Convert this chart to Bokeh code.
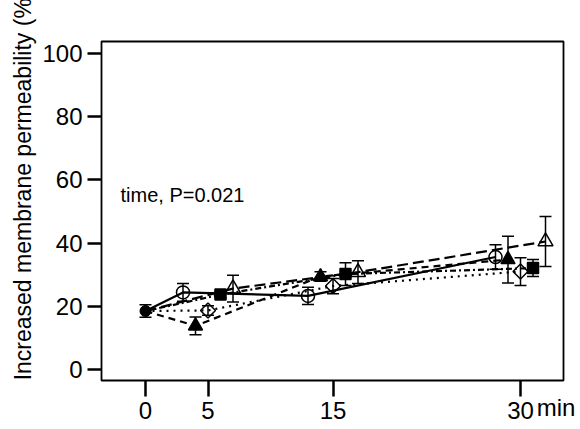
import math
from bokeh.plotting import figure
from bokeh.models import (ColumnDataSource, Whisker, TeeHead, Label,
                          FixedTicker, Range1d, LinearAxis)
from bokeh.embed import file_html
from bokeh.resources import INLINE

# ---- data ----
times = [5, 15, 30]
tick_values = [0, 5, 15, 30]
tick_labels = ["0", "5", "15", "30"]
unit_label = "min"
y_ticks = [0, 20, 40, 60, 80, 100]

base_time = [0]
base_value = [18.5]
base_err = [2.0]

open_circle_vals = [24.4, 23.3, 35.6]
open_circle_err = [2.8, 2.7, 3.9]
filled_tri_vals = [13.8, 29.4, 34.8]
filled_tri_err = [2.8, 1.5, 7.4]
diamond_vals = [18.7, 26.4, 31.0]
diamond_err = [1.5, 2.4, 4.4]
square_vals = [23.7, 30.2, 32.1]
square_err = [1.0, 3.6, 2.7]
open_tri_vals = [25.6, 30.8, 40.5]
open_tri_err = [4.2, 3.6, 7.9]

FONT = "Liberation Sans"

W, H = 580, 429
X0, X1 = -3.52, 33.44
p = figure(width=W, height=H, output_backend="svg", toolbar_location=None,
           x_range=Range1d(X0, X1), y_range=Range1d(-3.48, 103.8),
           min_border_left=101, min_border_right=17, min_border_top=41,
           min_border_bottom=49)
p.xgrid.visible = False
p.ygrid.visible = False
p.outline_line_color = "black"
p.outline_line_width = 1.8
p.background_fill_color = "white"
p.border_fill_color = "white"

for ax in (p.xaxis[0], p.yaxis[0]):
    ax.axis_line_color = None
    ax.major_tick_in = 0
    ax.major_tick_line_width = 2.5
    ax.major_tick_line_color = "black"
    ax.minor_tick_line_color = None
    ax.major_label_text_font = FONT
    ax.major_label_text_font_size = "24px"
    ax.major_label_text_color = "black"

xa = p.xaxis[0]
xa.ticker = FixedTicker(ticks=tick_values)
xa.major_label_overrides = {t: l for t, l in zip(tick_values, tick_labels)}
xa.major_tick_out = 16
xa.major_label_standoff = 5

# unit text on the same line as the tick labels
unit_pos = 30 + (555.5 - 520) / 12.5
xb = LinearAxis(ticker=FixedTicker(ticks=[unit_pos]),
                major_label_overrides={unit_pos: unit_label},
                axis_line_color=None, major_tick_line_color=None,
                minor_tick_line_color=None, major_tick_in=0, major_tick_out=0,
                major_label_standoff=-28, major_label_text_font=FONT,
                major_label_text_font_size="24px", major_label_text_color="black")
p.add_layout(xb, "below")

ya = p.yaxis[0]
ya.ticker = FixedTicker(ticks=y_ticks)
ya.major_tick_out = 14
ya.major_label_standoff = 5
pad = "\u00a0" * 8
ya.axis_label = pad + "Increased membrane permeability (%)"
ya.axis_label_text_font = FONT
ya.axis_label_text_font_size = "23px"
ya.axis_label_text_font_style = "normal"
ya.axis_label_text_color = "black"
ya.axis_label_standoff = 3

series = [
    (open_circle_vals, open_circle_err, -2, "solid", "circle", 13, False, 0),
    (filled_tri_vals, filled_tri_err, -1, "7 5", "triangle", 14, True, 0),
    (diamond_vals, diamond_err, 0, "2 5", "square", 10.6, False, math.pi / 4),
    (square_vals, square_err, 1, "6 3 2 3", "square", 11, True, 0),
    (open_tri_vals, open_tri_err, 2, "11 5", "triangle", 15, False, 0),
]

for vals, errs, off, dash, marker, size, filled, ang in series:
    xs = base_time + [t + off for t in times]
    ys = base_value + vals
    p.line(xs, ys, line_color="black", line_width=2.2, line_dash=dash)

for vals, errs, off, dash, marker, size, filled, ang in series:
    xs = [t + off for t in times]
    src = ColumnDataSource(dict(x=xs, y=vals,
                                lo=[v - e for v, e in zip(vals, errs)],
                                hi=[v + e for v, e in zip(vals, errs)]))
    p.add_layout(Whisker(source=src, base="x", lower="lo", upper="hi",
                         line_color="black", line_width=1.5,
                         upper_head=TeeHead(size=12, line_width=1.5, line_color="black"),
                         lower_head=TeeHead(size=12, line_width=1.5, line_color="black")))
    p.scatter(x="x", y="y", source=src, marker=marker, size=size, angle=ang,
              line_color="black", line_width=1.5,
              fill_color="black" if filled else "white",
              fill_alpha=1.0 if filled else 0.0)

bsrc = ColumnDataSource(dict(x=base_time, y=base_value,
                             lo=[v - e for v, e in zip(base_value, base_err)],
                             hi=[v + e for v, e in zip(base_value, base_err)]))
p.add_layout(Whisker(source=bsrc, base="x", lower="lo", upper="hi",
                     line_color="black", line_width=1.5,
                     upper_head=TeeHead(size=12, line_width=1.5, line_color="black"),
                     lower_head=TeeHead(size=12, line_width=1.5, line_color="black")))
p.scatter(x="x", y="y", source=bsrc, marker="circle", size=11,
          line_color="black", fill_color="black")

p.add_layout(Label(x=-2, y=55.1, text="time, P=0.021", text_font=FONT,
                   text_font_size="20px", text_color="black",
                   text_baseline="alphabetic"))

open("out.html", "w").write(file_html(p, INLINE))
